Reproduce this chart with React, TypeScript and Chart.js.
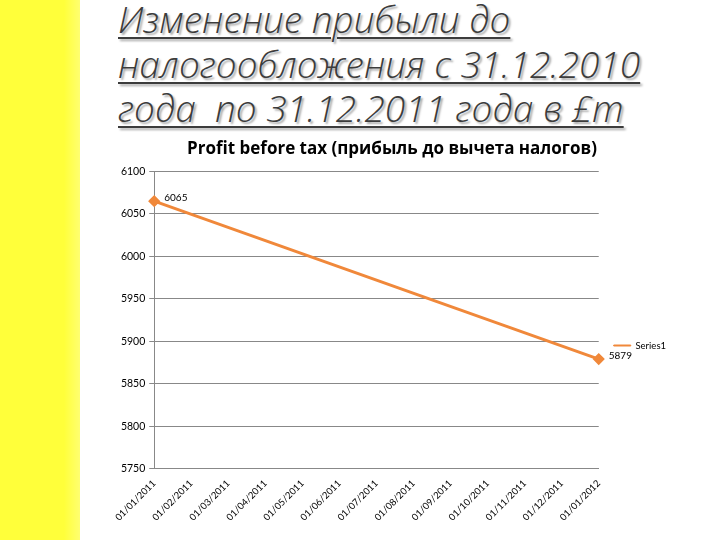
import React, { useEffect, useRef } from "react";
import { Chart, registerables } from "chart.js";

Chart.register(...registerables);

const categories = [
  "01/01/2011", "01/02/2011", "01/03/2011", "01/04/2011", "01/05/2011",
  "01/06/2011", "01/07/2011", "01/08/2011", "01/09/2011", "01/10/2011",
  "01/11/2011", "01/12/2011", "01/01/2012",
];
const profitValues: (number | null)[] = [
  6065, null, null, null, null, null, null, null, null, null, null, null, 5879,
];
const seriesName = "Series1";
const chartTitle = "Profit before tax (прибыль до вычета налогов)";
const titleLines = [
  "Изменение прибыли до",
  "налогообложения с 31.12.2010",
  "года  по 31.12.2011 года в £m",
];
const yMin = 5750;
const yMax = 6100;
const yStep = 50;

const ORANGE = "#F0883A";
const FONT = "Lato, 'Liberation Sans', sans-serif";

const valueLabels = {
  id: "valueLabels",
  afterDatasetsDraw(chart: any) {
    const ctx = chart.ctx;
    const meta = chart.getDatasetMeta(0);
    const data = chart.data.datasets[0].data;
    ctx.save();
    ctx.font = `10px ${FONT}`;
    ctx.fillStyle = "#000";
    ctx.textBaseline = "middle";
    ctx.textAlign = "left";
    meta.data.forEach((pt: any, i: number) => {
      if (data[i] == null) return;
      ctx.fillText(String(data[i]), pt.x + 10, pt.y - 3);
    });
    ctx.restore();
  },
};

function ProfitChart() {
  const ref = useRef<HTMLCanvasElement | null>(null);
  useEffect(() => {
    if (!ref.current) return;
    const chart = new Chart(ref.current, {
      type: "line",
      data: {
        labels: categories,
        datasets: [
          {
            label: seriesName,
            data: profitValues,
            borderColor: ORANGE,
            backgroundColor: ORANGE,
            borderWidth: 3,
            pointStyle: "rectRot",
            pointRadius: 4,
            pointBackgroundColor: ORANGE,
            pointBorderColor: ORANGE,
            spanGaps: true,
            tension: 0,
          },
        ],
      },
      options: {
        animation: false,
        responsive: false,
        maintainAspectRatio: false,
        layout: { padding: { left: 0, right: 0, top: 0, bottom: 4 } },
        plugins: {
          title: {
            display: true,
            text: chartTitle,
            color: "#000",
            font: { family: "'Open Sans', 'Liberation Sans', sans-serif", size: 17, weight: "bold" },
            padding: { top: 2, bottom: 12 },
          },
          legend: {
            display: true,
            position: "right",
            title: { display: true, text: " ", font: { size: 10 }, padding: { top: 5, bottom: 5 } },
            labels: {
              boxWidth: 17,
              boxHeight: 1,
              color: "#000",
              font: { family: FONT, size: 9.5 },
              padding: 15,
              generateLabels: (c: any) =>
                Chart.defaults.plugins.legend.labels.generateLabels(c).map((l: any) => ({ ...l, lineWidth: 1 })),
            },
          },
          tooltip: { enabled: false },
        },
        scales: {
          x: {
            type: "category",
            offset: false,
            grid: { display: false, drawTicks: false },
            border: { display: true, color: "#888", width: 1 },
            ticks: {
              color: "#000",
              font: { family: FONT, size: 9.5 },
              minRotation: 45,
              maxRotation: 45,
              padding: 9,
              autoSkip: false,
            },
          },
          y: {
            min: yMin,
            max: yMax,
            afterFit: (s: any) => { s.width = 45; },
            grid: { color: "#888", lineWidth: 1, tickLength: 5 },
            border: { display: true, color: "#888", width: 1 },
            ticks: {
              stepSize: yStep,
              color: "#000",
              font: { family: FONT, size: 10.5 },
              padding: 4,
              callback: (v: any) => String(v),
            },
          },
        },
      },
      plugins: [valueLabels],
    });
    return () => chart.destroy();
  }, []);
  return <canvas ref={ref} width={568} height={399} style={{ position: "absolute", left: 108, top: 137 }} />;
}

export default function App() {
  return (
    <div style={{ position: "fixed", left: 0, top: 0, width: 720, height: 540, background: "#fff", overflow: "hidden" }}>
      <div
        style={{
          position: "absolute", left: 0, top: 0, width: 80, height: 540,
          background: "linear-gradient(90deg, #FFFF3A 0%, #FFFF3A 80%, #FFFF70 100%)",
        }}
      />
      {titleLines.map((line, i) => (
        <div
          key={i}
          style={{
            position: "absolute",
            left: 118,
            top: -4 + i * 44.5,
            fontFamily: "'Open Sans', sans-serif",
            fontStyle: "italic",
            fontWeight: 300,
            fontSize: 37,
            lineHeight: "46px",
            color: "#3c3c3c",
            textDecoration: "underline",
            textDecorationThickness: "2px",
            textUnderlineOffset: "4px",
            textShadow: "2px 2px 2px rgba(0,0,0,0.35)",
            whiteSpace: "pre",
          }}
        >
          {line}
        </div>
      ))}
      <ProfitChart />
    </div>
  );
}
